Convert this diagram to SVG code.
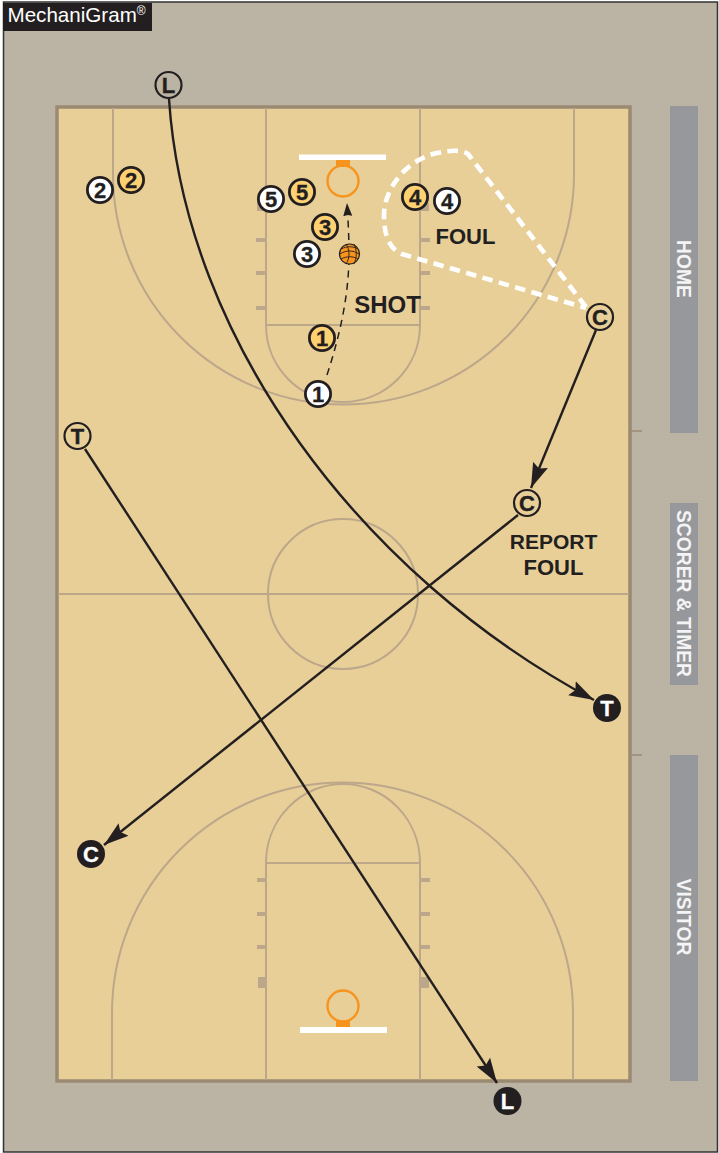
<svg xmlns="http://www.w3.org/2000/svg" width="719" height="1153" viewBox="0 0 719 1153">
<style>
.ln{fill:none;stroke:#bca78b;stroke-width:2}
.tk{fill:#bca78b}
.hoop{fill:none;stroke:#f7941d;stroke-width:2.4}
.or{fill:#f7941d}
.wh{fill:#fff}
.bar{fill:#97989c}
.bt{font:700 19.3px "Liberation Sans",Arial,sans-serif;fill:#f4f4f4;text-anchor:middle}
.lb{font:700 22px "Liberation Sans",Arial,sans-serif;fill:#231f20;text-anchor:middle}
.p circle{stroke:#231f20;stroke-width:2.8}
.p text{font:700 22px "Liberation Sans",Arial,sans-serif;fill:#231f20;stroke:#231f20;stroke-width:.3;text-anchor:middle}
.off circle{fill:#fff}
.def circle{fill:#fdd072}
.ref circle{fill:none;stroke:#231f20;stroke-width:2.2}
.ref text{font:700 22px "Liberation Sans",Arial,sans-serif;fill:#231f20;stroke:#231f20;stroke-width:.4;text-anchor:middle}
.end circle{fill:#231f20}
.end text{font:700 22px "Liberation Sans",Arial,sans-serif;fill:#fff;stroke:#fff;stroke-width:.3;text-anchor:middle}
.mv{fill:none;stroke:#231f20;stroke-width:2.4}
.sh{fill:none;stroke:#231f20;stroke-width:1.5;stroke-dasharray:7 5.500}
.sc{fill:none;stroke:#fff;stroke-width:4.6;stroke-dasharray:10.500 6.500}
</style>
<defs>
<marker id="ah" markerUnits="userSpaceOnUse" markerWidth="26" markerHeight="18" refX="25" refY="9" orient="auto"><path d="M0 1L25 9L0 17L4 9Z" fill="#231f20"/></marker>
<marker id="as" markerUnits="userSpaceOnUse" markerWidth="14" markerHeight="10" refX="13" refY="5" orient="auto"><path d="M0 .5L13 5L0 9.500L1 5Z" fill="#231f20"/></marker>
</defs>
<rect x="3.500" y="2" width="714" height="1150" fill="#bbb3a3" stroke="#333" stroke-width="1.500"/>
<g id="court">
<rect x="57" y="107" width="573" height="974" fill="#e8cf98" stroke="#9a8a72" stroke-width="3.500"/>
<path class="ln" d="M58 594H629"/>
<circle class="ln" cx="343" cy="594" r="75"/>
<path class="ln" d="M266 108V325H420V108M266 325A77 77 0 0 0 420 325"/>
<path class="ln" d="M113 108V174A230.500 230.500 0 0 0 574 174V108"/>
<path class="ln" d="M266 1080V863H420V1080M266 863A77 79 0 0 1 420 863"/>
<path class="ln" d="M112 1080V1013A230.500 230.500 0 0 1 573 1013V1080"/>
<path class="tk" d="M256 238h10v4h-10zM256 271h10v4h-10zM256 306h10v4h-10zM257 203h9v8h-9zM420 238h10v4h-10zM420 271h10v4h-10zM420 306h10v4h-10zM420 203h9v8h-9z"/>
<path class="tk" d="M257 878h9v4h-9zM257 912h9v4h-9zM257 945h9v4h-9zM258 977h8v11h-8zM420 878h10v4h-10zM420 912h10v4h-10zM420 945h10v4h-10zM420 977h9v11h-9z"/>
<rect class="wh" x="299" y="154.500" width="87" height="5.500"/>
<rect class="or" x="336" y="160" width="14" height="7"/>
<circle class="hoop" cx="343" cy="181" r="15.500"/>
<rect class="or" x="336" y="1021" width="14" height="7"/>
<circle class="hoop" cx="343" cy="1006" r="15.500"/>
<rect class="wh" x="300" y="1027" width="87" height="6"/>
<path d="M630 431H642M630 755H642" stroke="#9a8a72" stroke-width="1.500" fill="none"/>
</g>
<g id="bars">
<rect class="bar" x="670" y="106" width="28" height="327"/>
<rect class="bar" x="670" y="503" width="28" height="182"/>
<rect class="bar" x="670" y="755" width="28" height="326"/>
<text class="bt" transform="translate(677 269) rotate(90)">HOME</text>
<text class="bt" transform="translate(677 593.500) rotate(90)">SCORER &amp; TIMER</text>
<text class="bt" transform="translate(677 917) rotate(90)">VISITOR</text>
</g>
<g id="logo">
<rect x="3" y="3" width="149" height="28" fill="#231f20"/>
<text x="7.500" y="22" font-family="Liberation Sans,Arial,sans-serif" font-size="20.600" fill="#fff">MechaniGram<tspan font-size="12" dy="-7">®</tspan></text>
</g>
<g id="connectors">
<path class="mv" d="M169 99C185 340 360 575 594 700" marker-end="url(#ah)"/>
<path class="mv" d="M596 330L531 488" marker-end="url(#ah)"/>
<path class="mv" d="M518 515L104 845" marker-end="url(#ah)"/>
<path class="mv" d="M85 449L497 1083" marker-end="url(#ah)"/>
<path class="sh" d="M327 375C340 335 349 295 349 254C349 235 348 220 347 203" marker-end="url(#as)"/>
<path class="sc" d="M586 307L468 154Q460 148 437 153C405 160 384 190 384 215C384 240 392 250 402 254L586 308"/>
</g>
<g id="ball">
<circle cx="349.500" cy="254" r="10" fill="#f7941d" stroke="#231f20" stroke-width="1.200"/>
<path d="M340 254C346 250 353 250 359 254M341 249C347 246 353 246 358 249M341 259C347 256 353 256 358 259M346 244C350 250 350 258 346 264M354 244C357 250 357 258 354 264" fill="none" stroke="#231f20" stroke-width=".9"/>
</g>
<g id="labels">
<text class="lb" x="387.500" y="313" style="font-size:24px">SHOT</text>
<text class="lb" x="465.500" y="244">FOUL</text>
<text class="lb" x="553.500" y="549" style="font-size:21px">REPORT</text>
<text class="lb" x="553.500" y="575">FOUL</text>
</g>
<g id="off1" class="p off"><circle cx="318" cy="394" r="12.600"/><text x="318" y="401.500">1</text></g>
<g id="off2" class="p off"><circle cx="100" cy="190" r="12.600"/><text x="100" y="197.500">2</text></g>
<g id="off3" class="p off"><circle cx="307" cy="254" r="12.600"/><text x="307" y="261.500">3</text></g>
<g id="off4" class="p off"><circle cx="447" cy="201" r="12.600"/><text x="447" y="208.500">4</text></g>
<g id="off5" class="p off"><circle cx="271" cy="199" r="12.600"/><text x="271" y="206.500">5</text></g>
<g id="def1" class="p def"><circle cx="322" cy="338" r="12.600"/><text x="322" y="345.500">1</text></g>
<g id="def2" class="p def"><circle cx="131" cy="180" r="12.600"/><text x="131" y="187.500">2</text></g>
<g id="def3" class="p def"><circle cx="325" cy="227" r="12.600"/><text x="325" y="234.500">3</text></g>
<g id="def4" class="p def"><circle cx="415" cy="197" r="12.600"/><text x="415" y="204.500">4</text></g>
<g id="def5" class="p def"><circle cx="302" cy="192" r="12.600"/><text x="302" y="199.500">5</text></g>
<g id="refL" class="ref"><circle cx="168.500" cy="85" r="13"/><text x="168.500" y="93">L</text></g>
<g id="refT" class="ref"><circle cx="77.500" cy="436" r="13"/><text x="77.500" y="444">T</text></g>
<g id="refC1" class="ref"><circle cx="600" cy="317" r="13"/><text x="600" y="325">C</text></g>
<g id="refC2" class="ref"><circle cx="527" cy="503" r="13"/><text x="527" y="511">C</text></g>
<g id="endT" class="end"><circle cx="607" cy="708" r="14"/><text x="607" y="716">T</text></g>
<g id="endC" class="end"><circle cx="91" cy="854" r="14"/><text x="91" y="862">C</text></g>
<g id="endL" class="end"><circle cx="507.500" cy="1101" r="14"/><text x="507.500" y="1109">L</text></g>
</svg>
